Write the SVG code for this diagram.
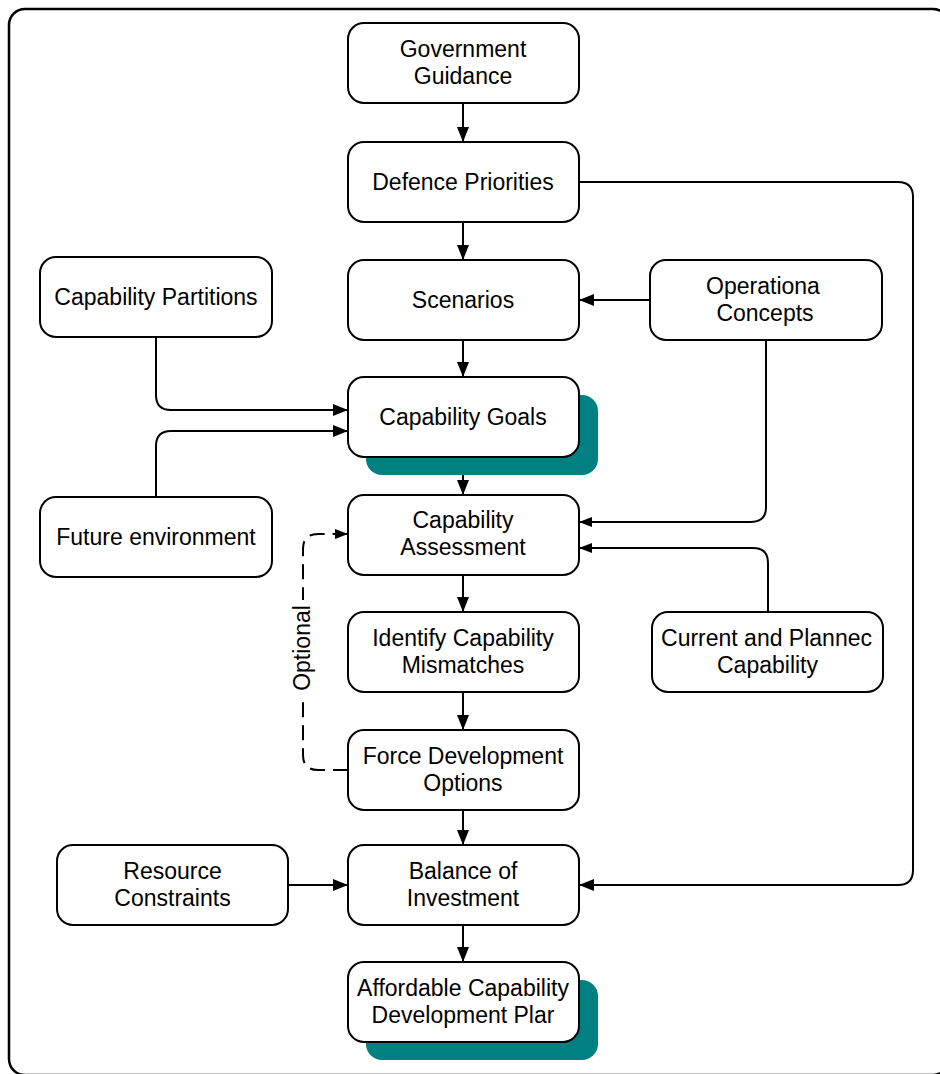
<svg xmlns="http://www.w3.org/2000/svg" width="940" height="1074" viewBox="0 0 940 1074">
<style>
.box{fill:#fff;stroke:#000;stroke-width:2}
.shadow{fill:#008080}
.t{font-family:"Liberation Sans",Arial,sans-serif;font-size:23px;fill:#000;text-anchor:middle}
.c{fill:none;stroke:#000;stroke-width:2}
.big{marker-end:url(#ah)}
.small{marker-end:url(#as)}
.dash{stroke-dasharray:15 8}
</style>
<defs>
<marker id="ah" markerUnits="userSpaceOnUse" markerWidth="15" markerHeight="12" refX="15" refY="6" orient="auto"><path d="M0,0 L15,6 L0,12 Z" fill="#000"/></marker>
<marker id="as" markerUnits="userSpaceOnUse" markerWidth="13" markerHeight="10" refX="13" refY="5" orient="auto"><path d="M0,0 L13,5 L0,10 Z" fill="#000"/></marker>
</defs>
<rect x="9" y="9" width="940" height="1066" rx="16" fill="none" stroke="#000" stroke-width="2.5"/>

<g id="connectors">
<path class="c big" d="M463,103 V142"/>
<path class="c big" d="M463,222 V260"/>
<path class="c big" d="M463,340 V377"/>
<path class="c big" d="M463,457 V495"/>
<path class="c big" d="M463,575 V612"/>
<path class="c big" d="M463,692 V730"/>
<path class="c big" d="M463,810 V845"/>
<path class="c big" d="M463,925 V962"/>
<path class="c big" d="M579,182 H898 Q913,182 913,197 V870 Q913,885 898,885 H579"/>
<path class="c big" d="M650,300 H579"/>
<path class="c small" d="M766,340 V507 Q766,522 751,522 H579"/>
<path class="c small" d="M768,612 V563 Q768,548 753,548 H579"/>
<path class="c big" d="M156,337 V395 Q156,410 171,410 H348"/>
<path class="c big" d="M156,497 V446 Q156,431 171,431 H348"/>
<path class="c big" d="M288,885 H348"/>
<path class="c dash" d="M348,770 H318 Q303,770 303,755 V549 Q303,534 318,534 H334"/>
<path class="c small" d="M334,534 H348"/>
<rect x="291" y="600" width="24" height="98" fill="#fff"/>
<text class="t" transform="translate(310,648) rotate(-90)">Optional</text>
</g>

<g id="government-guidance"><rect class="box" x="348" y="23" width="231" height="80" rx="16"/><text class="t" x="463" y="56.5">Government</text><text class="t" x="463" y="83.5">Guidance</text></g>
<g id="defence-priorities"><rect class="box" x="348" y="142" width="231" height="80" rx="16"/><text class="t" x="463" y="190">Defence Priorities</text></g>
<g id="scenarios"><rect class="box" x="348" y="260" width="231" height="80" rx="16"/><text class="t" x="463" y="308">Scenarios</text></g>
<g id="capability-goals"><rect class="shadow" x="366" y="395" width="232" height="80" rx="16"/><rect class="box" x="348" y="377" width="231" height="80" rx="16"/><text class="t" x="463" y="425">Capability Goals</text></g>
<g id="capability-assessment"><rect class="box" x="348" y="495" width="231" height="80" rx="16"/><text class="t" x="463" y="528">Capability</text><text class="t" x="463" y="555">Assessment</text></g>
<g id="identify-mismatches"><rect class="box" x="348" y="612" width="231" height="80" rx="16"/><text class="t" x="463" y="645.5">Identify Capability</text><text class="t" x="463" y="672.5">Mismatches</text></g>
<g id="force-development-options"><rect class="box" x="348" y="730" width="231" height="80" rx="16"/><text class="t" x="463" y="763.5">Force Development</text><text class="t" x="463" y="790.5">Options</text></g>
<g id="balance-of-investment"><rect class="box" x="348" y="845" width="231" height="80" rx="16"/><text class="t" x="463" y="878.5">Balance of</text><text class="t" x="463" y="905.5">Investment</text></g>
<g id="affordable-plan"><rect class="shadow" x="366" y="980" width="232" height="80" rx="16"/><rect class="box" x="348" y="962" width="231" height="80" rx="16"/><text class="t" x="463" y="995.5">Affordable Capability</text><text class="t" x="463" y="1022.5">Development Plar</text></g>
<g id="capability-partitions"><rect class="box" x="40" y="257" width="232" height="80" rx="16"/><text class="t" x="156" y="305">Capability Partitions</text></g>
<g id="future-environment"><rect class="box" x="40" y="497" width="232" height="80" rx="16"/><text class="t" x="156" y="545">Future environment</text></g>
<g id="operational-concepts"><rect class="box" x="650" y="260" width="232" height="80" rx="16"/><text class="t" x="763" y="293.5">Operationa</text><text class="t" x="765" y="320.5">Concepts</text></g>
<g id="current-planned-capability"><rect class="box" x="652" y="612" width="231" height="80" rx="16"/><text class="t" x="766.5" y="645.5">Current and Plannec</text><text class="t" x="767.5" y="672.5">Capability</text></g>
<g id="resource-constraints"><rect class="box" x="57" y="845" width="231" height="80" rx="16"/><text class="t" x="172.5" y="878.5">Resource</text><text class="t" x="172.5" y="905.5">Constraints</text></g>
</svg>
